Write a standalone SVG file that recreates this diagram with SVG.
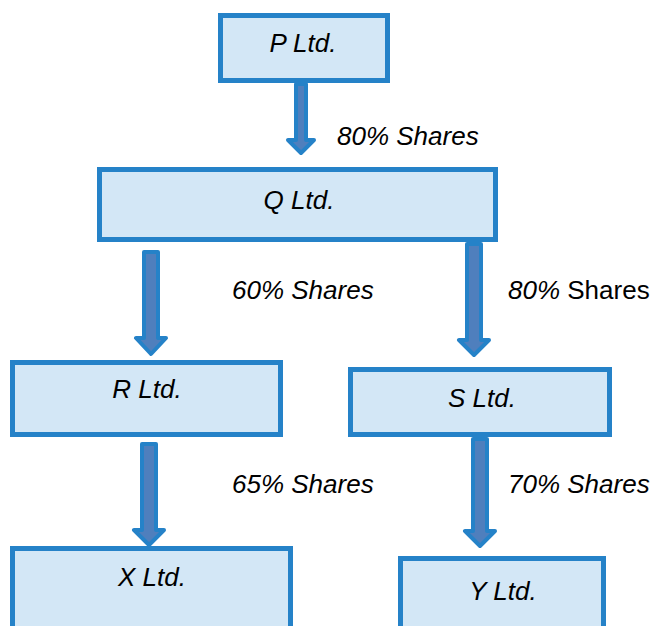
<svg xmlns="http://www.w3.org/2000/svg" width="655" height="626" viewBox="0 0 655 626">
  <style>
    .box { fill: #d3e7f6; stroke: #2582c8; stroke-width: 5; }
    .lbl { font-family: "Liberation Sans", Arial, sans-serif; font-size: 26px; font-style: italic; fill: #000; }
    .mid { text-anchor: middle; }
    .up { font-style: normal; }
    .arrow { fill: #4f7fbd; stroke: #2582c8; stroke-width: 4; stroke-linejoin: round; }
  </style>
  <rect width="655" height="626" fill="#fff"/>

  <!-- ownership arrows -->
  <g id="connectors">
    <path class="arrow" d="M296 84 H306 V140 H314 L301 153 L288 140 H296 Z"/>
    <path class="arrow" d="M144 252 H158 V338 H166 L151 354 L136 338 H144 Z"/>
    <path class="arrow" d="M467 244 H481 V340 H489 L474 355 L459 340 H467 Z"/>
    <path class="arrow" d="M142 444 H156 V530 H164 L149 545 L134 530 H142 Z"/>
    <path class="arrow" d="M473 439 H487 V531 H495 L480 546 L465 531 H473 Z"/>
    <text class="lbl" x="337" y="145">80% Shares</text>
    <text class="lbl" x="232" y="299">60% Shares</text>
    <text class="lbl" x="508" y="299">80% <tspan class="up">Shares</tspan></text>
    <text class="lbl" x="232" y="493">65% Shares</text>
    <text class="lbl" x="508" y="493">70% Shares</text>
  </g>

  <g id="node-p">
    <rect class="box" x="220.5" y="15.5" width="167" height="65"/>
    <text class="lbl mid" x="303" y="52">P Ltd.</text>
  </g>
  <g id="node-q">
    <rect class="box" x="99.5" y="169.5" width="396" height="70"/>
    <text class="lbl mid" x="299" y="209">Q Ltd.</text>
  </g>
  <g id="node-r">
    <rect class="box" x="12.5" y="362.5" width="268" height="72"/>
    <text class="lbl mid" x="147" y="398">R Ltd.</text>
  </g>
  <g id="node-s">
    <rect class="box" x="350.5" y="369.5" width="259" height="65"/>
    <text class="lbl mid" x="482" y="407">S Ltd.</text>
  </g>
  <g id="node-x">
    <rect class="box" x="12.5" y="548.5" width="278" height="100"/>
    <text class="lbl mid" x="152" y="586">X Ltd.</text>
  </g>
  <g id="node-y">
    <rect class="box" x="400.5" y="558.5" width="203" height="90"/>
    <text class="lbl mid" x="503" y="600">Y Ltd.</text>
  </g>
</svg>
